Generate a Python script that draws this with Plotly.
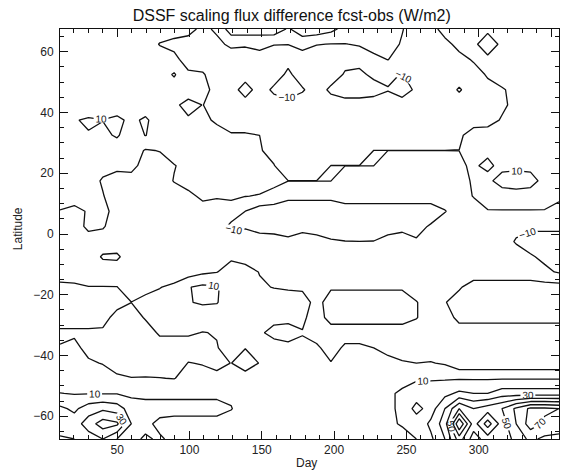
import plotly.graph_objects as go

# Grid: day of year (columns) and latitude (rows, north to south)
day = [10.5, 20.4, 30.2, 40.1, 49.9, 59.8, 69.6, 79.5, 89.4, 99.2, 109.1, 118.9,
       128.8, 138.6, 148.5, 158.4, 168.2, 178.1, 187.9, 197.8, 207.6, 217.5, 227.4,
       237.2, 247.1, 256.9, 266.8, 276.6, 286.5, 296.4, 306.2, 316.1, 325.9, 335.8,
       345.6, 355.5]
lat = [67.5, 62.5, 57.5, 52.5, 47.5, 42.5, 37.5, 32.5, 27.5, 22.5, 17.5, 12.5, 7.5,
       2.5, -2.5, -7.5, -12.5, -17.5, -22.5, -27.5, -32.5, -37.5, -42.5, -47.5,
       -52.5, -57.5, -62.5, -67.5]

# Flux difference fcst-obs (W/m2), one row per latitude
diff = [
    [5, 5, 5, 5, 5, 5, 5, 5, 5, 4, -3, 2, 15, 15.6, 13.5, 16, 9, 15, 16, 12.6, 7, 5, 5, 3, 0.5, -5, -4, 4, 5, 5, 2, 5, 5, 5, 5, 5],
    [5, 5, 5, 5, 5, 5, 5, -0.5, -3, -5, -5, -3, 2.5, 1.6, 4.7, 0.5, 0.2, 4.7, 0.5, -0.3, -0.3, 1, 4.5, 4, -1, -5, -5, -3, 3, 2, -5, 2, 5, 5, 5, 5],
    [5, 5, 5, 5, 5, 5, 5, 5, 3, -5, -5, -5, -7, -7, -7, -7, -7, -7, -7, -7, -7, -7, -3, 0.3, -5, -5, -5, -5, -3, 1, 2, 5, 5, 5, 5, 5],
    [5, 5, 5, 5, 5, 5, 5, 5, 11, 2, 1, -5, -5, -5, -5, -5, -12, -5, -5, -5, -11, -12, -8, -8, -10.5, -5, -5, -5, -5, -4, 1, 5, 5, 5, 5, 5],
    [5, 5, 5, 5, 5, 5, 5, 5, 5, 8, 2, -2, -5, -15, -5, -12, -17, -11, -5, -12, -16, -16, -14, -10.5, -15, -8, -5, -5, -11, -5, -3, -1, 3, 5, 5, 5],
    [5, 5, 5, 5, 5, 5, 5, 5, 3, -5, 0.3, -5, -5, -5, -5, -5, -5, -5, -5, -5, -5, -5, -5, -5, -5, -5, -5, -5, -5, -5, -5, -2, 3, 5, 5, 5],
    [5, 9.5, 11, 10.2, 12, 8, 11.5, 5, 5, 2, 3, -2, -5, -5, -5, -5, -5, -5, -5, -5, -5, -5, -5, -5, -5, -5, -5, -5, -5, -5, -4, 1, 5, 5, 5, 5],
    [5, 5, 9.5, 8, 11, 5, 10.3, 5, 5, 5, 5, 5, 1, 1, 0, -5, -5, -5, -5, -5, -5, -5, -9, -9, -9, -9, -9, -9, -2, 5, 5, 5, 5, 5, 5, 5],
    [5, 5, 5, 5, 5, 5, -0.8, 0.4, 5, 5, 5, 5, 5, 5, 1, -4, -5, -5, -5, -9, -9, -9, 0.1, 0.1, 0.1, 0.1, 0.1, 0.1, 0.1, 5, 5, 5, 5, 5, 5, 5],
    [5, 5, 5, 3, 3, 4, -5, -4, -0.5, 3, 5, 5, 5, 5, 5, 0.5, -9, -9, -9, 0.1, 0.1, 0.1, 0.1, -8, -8, -8, -8, -8, -3, 3, -5, 7, 7, 7, 5, 5],
    [5, 5, 4, -1, -5, -5, -5, -5, 0.5, 5, 5, 5, 5, 5, 5, 3.3, 0.1, 0.1, 0.1, 0.1, -8, -8, -8, -5, -5, -5, -5, -5, -3, 1, 7.8, 14, 16, 14, 6.5, 5],
    [5, 5, 5, 0.5, -5, -5, -5, -5, -5, -3, 2.5, 1, 2, 0.3, -0.7, -4, -8, -8, -8, -8, -5, -5, -5, -5, -5, -5, -5, -5, -3, 0.3, 4, 5, 5, 5, 4, 0.3],
    [-0.5, -3, 1, 4, -5, -5, -5, -5, -5, -5, -5, -5, -5, -10, -15, -15, -15, -15, -15, -15, -15, -15, -15, -15, -15, -15, -15, -10.5, -5, -3, -0.5, -0.5, -0.5, -0.5, -0.5, -0.5],
    [-5, -5, 2.5, 1, -5, -5, -5, -5, -5, -5, -5, -5, -12, -11, -14, -15, -15, -15, -15, -15, -15, -15, -15, -15, -15, -13, -9, -5, -5, -5, -5, -5, -7, -8, -8, -8],
    [-5, -5, -5, -5, -5, -5, -5, -5, -5, -5, -5, -5, -5, -5, -5, -5, -7.7, -3, -6, -9, -9.8, -9.9, -9.8, -6, -2, -9, -5, -5, -5, -5, -5, -5, -11, -14, -14, -14],
    [-5, -5, -5, 1, 1.5, -5, -5, -5, -5, -5, -5, -5, -1.5, -3, -5, -5, -5, -5, -5, -5, -5, -5, -5, -5, -5, -5, -5, -5, -5, -5, -5, -5, -5, -9, -12, -14],
    [-5, -5, -5, -5, -5, -5, -5, -5, -5, -5, -1.85, -0.3, 4, 3, -0.3, -5, -5, -5, -5, -5, -5, -5, -5, -5, -5, -5, -5, -5, -5, -5, -5, -5, -5, -5, -8, -11],
    [2.5, 1.8, 0.3, 0.3, 0.2, -5, -3, -0.3, 1.8, 9.5, 12, 11, 5, 5, 1, -0.3, -1, -1.5, -5, -1, -1, -1, -1, -1, -1, -5, -5, -5, -1, 4, 4, 4, 4, 4, 4, 4],
    [5, 5, 5, 5, 3, 0.1, 3, 3, 3, 9.5, 11, 10.5, 5, 5, 5, 4, 4, 4, -3, 4, 4, 4, 4, 4, 4, 0.5, -5, -0.5, 4, 4, 4, 4, 4, 4, 4, 4],
    [4, 4, 4, 3, -3, -5, 1, 5, 5, 5, 5, 5, 5, 5, 5, 2, 2, 2, -5, 4, 4, 4, 4, 4, 4, 0.5, -5, -5, 3, 3, 3, 3, 3, 3, 3, 3],
    [-1.5, -1.5, -1.5, -1.5, -5, -5, -5, 1.5, 1.5, 1.5, -0.3, 0.5, 5, 5, 1, -2, -3, -0.5, -5, -5, -5, -5, -5, -5, -5, -5, -5, -5, -5, -5, -5, -5, -5, -5, -5, -5],
    [0.5, 2.5, -3, -5, -5, -5, -5, -5, -5, -5, -5, -0.5, 4, 0.3, 3, 3, 2, 2, 2, -5, 2, 2, 0, -3, -5, -5, -5, -5, -5, -5, -5, -5, -5, -5, -5, -5],
    [3, 5, 1.4, -0.5, -5, -5, -5, -5, -5, 0.3, -0.5, -3, 0.2, -5, 0.4, 3, 3, 3, 3, 0.5, 3, 3, 3, 3, 1, 0, 0.5, -1, -7, -7, -7, -7, -7, -7, -7, -7],
    [5, 5, 5, 5, 2, 0.3, 0.5, 0.2, -0.3, 3, 3, 3, 5, 4.4, 5, 5, 5, 5, 5, 5, 5, 5, 5, 8, 9, 9, 9, 9, 9, 9, 9, 9, 9, 9, 9, 9],
    [10.2, 9.5, 9.5, 9.5, 9.5, 8, 8, 8, 8, 8, 8, 8, 8, 5, 5, 5, 5, 5, 5, 5, 5, 5, 5, 9.5, 10.5, 14, 15, 17, 22, 20, 20, 25, 25, 25, 25, 25],
    [22, 18, 25, 28, 25, 15, 13, 13, 13, 13, 13, 13, 10.5, 5, 5, 5, 5, 5, 5, 5, 5, 5, 5, 9, 11, 24, 15, 30, 50, 40, 45, 50, 62, 72, 72, 70],
    [28, 25, 35, 45, 42, 20, 12, 8, 7, 7, 7, 7, 5, 5, 5, 5, 5, 5, 5, 5, 5, 5, 5, 9, 10.5, 13, 22, 35, 80, 45, 65, 45, 60, 75, 68, 70],
    [18, 20, 25, 30, 20, 12, 9, 11, 8, 5, 5, 5, 5, 5, 5, 5, 5, 5, 5, 5, 5, 5, 5, 5, 8, 10, 18, 30, 55, 35, 45, 40, 55, 62, 58, 55],
]

title = "DSSF scaling flux difference fcst-obs (W/m2)"
ink = "#111111"
font = "Liberation Sans, Arial, Helvetica, sans-serif"

fig = go.Figure()

# Even levels (including zero) drawn without labels
fig.add_trace(go.Contour(
    x=day, y=lat, z=diff,
    autocontour=False,
    contours=dict(start=-80, end=80, size=20, coloring="none", showlabels=False),
    line=dict(color=ink, width=1.3, smoothing=0),
    showscale=False, hoverinfo="skip",
))
# Odd levels drawn with labels
fig.add_trace(go.Contour(
    x=day, y=lat, z=diff,
    autocontour=False,
    contours=dict(start=-90, end=90, size=20, coloring="none", showlabels=True,
                  labelfont=dict(family=font, size=10, color=ink),
                  labelformat=".0f"),
    line=dict(color=ink, width=1.3, smoothing=0),
    showscale=False, hoverinfo="skip",
))

axis_common = dict(
    showline=True, linecolor=ink, linewidth=1, mirror="ticks",
    ticks="inside", ticklen=8, tickwidth=1, tickcolor=ink,
    showgrid=False, zeroline=False,
    tickfont=dict(family=font, size=12, color="#222222"),
)

fig.update_layout(
    width=561, height=473,
    margin=dict(l=60, r=2, t=29, b=34),
    paper_bgcolor="white", plot_bgcolor="white",
    showlegend=False,
    title=dict(text=title, x=0.52, xref="container", xanchor="center",
               y=0.968, yref="container", yanchor="middle",
               font=dict(family=font, size=16, color=ink)),
    xaxis=dict(range=[10.5, 355.5], tick0=0, dtick=50,
               minor=dict(dtick=10, ticks="inside", ticklen=4, tickcolor=ink),
               **axis_common),
    yaxis=dict(range=[-67.5, 67.5], tick0=0, dtick=20,
               minor=dict(dtick=5, ticks="inside", ticklen=4, tickcolor=ink),
               ticklabelstandoff=3,
               **axis_common),
    annotations=[
        dict(text="Day", x=0.493, y=-0.0585, xref="paper", yref="paper",
             showarrow=False, font=dict(family=font, size=12, color="#222222"),
             xanchor="center", yanchor="middle"),
        dict(text="Latitude", x=-0.084, y=0.512, xref="paper", yref="paper",
             showarrow=False, textangle=-90,
             font=dict(family=font, size=12, color="#222222"),
             xanchor="center", yanchor="middle"),
    ],
)

fig.write_html("out.html")
